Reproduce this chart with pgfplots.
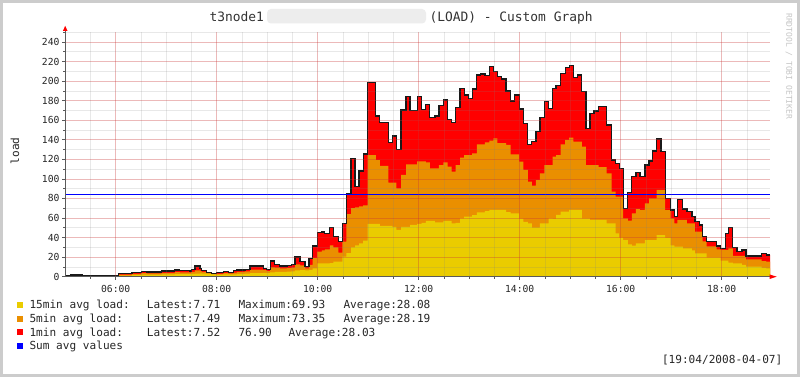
\documentclass[border=0pt]{standalone}
\usepackage{fontspec}
\setmainfont{DejaVu Sans Mono}
\usepackage{pgfplots}
\usepackage{pgfplotstable}
\pgfplotsset{compat=1.18}
\definecolor{rrdyel}{RGB}{234,204,0}
\definecolor{rrdora}{RGB}{234,143,0}
\definecolor{rrdred}{RGB}{255,0,0}
\definecolor{rrdblue}{RGB}{0,0,255}
\definecolor{axisgray}{RGB}{90,90,90}
\newcommand{\lfont}{\fontsize{11.1}{13}\selectfont}

\pgfplotstableread{
x y o t
5.00 0.4 0.7 1.0
5.10 0.7 1.2 1.8
5.33 0.4 0.7 1.0
6.05 1.2 2.2 3.0
6.32 1.6 2.8 4.0
6.51 2.0 3.6 5.5
6.61 2.1 3.4 4.8
6.91 2.3 4.0 5.8
7.17 2.6 4.6 7.0
7.27 2.7 4.4 6.0
7.47 2.7 4.2 5.5
7.50 2.8 4.9 7.5
7.57 3.2 6.5 11.0
7.67 3.3 6.0 8.5
7.70 3.2 5.0 6.0
7.80 2.8 3.6 4.0
7.90 2.3 2.8 3.0
8.00 2.2 3.0 4.0
8.13 2.3 3.6 5.0
8.23 2.3 3.3 4.0
8.33 2.5 4.2 6.0
8.40 2.8 5.0 7.0
8.56 3.1 5.4 7.5
8.66 3.6 7.2 11.0
8.92 3.8 6.6 8.5
8.99 3.7 5.8 7.5
9.06 4.5 9.5 16.0
9.15 4.9 9.2 12.6
9.25 5.0 8.6 11.0
9.39 5.2 8.8 11.6
9.48 5.5 9.2 12.6
9.55 6.5 12.5 20.0
9.65 6.8 11.5 15.3
9.75 6.5 8.6 10.2
9.83 7.0 12.0 18.8
9.90 8.5 19.0 31.4
9.99 13.7 25.6 45.4
10.08 13.7 27.0 45.7
10.14 13.7 27.9 44.0
10.24 14.0 32.0 50.5
10.31 15.3 30.0 40.9
10.41 15.3 24.5 35.8
10.49 20.4 35.8 54.6
10.57 24.0 64.0 84.5
10.66 30.0 70.0 121.0
10.74 32.0 71.0 92.0
10.82 34.0 72.0 108.0
10.90 37.0 73.0 125.4
10.99 54.0 124.4 198.4
11.15 54.0 119.3 164.3
11.23 52.0 113.2 157.5
11.40 52.0 96.1 137.4
11.48 51.0 96.1 143.9
11.56 47.8 90.4 130.2
11.65 51.0 104.0 170.4
11.75 51.0 114.9 184.0
11.83 53.0 114.9 169.7
11.97 54.0 118.0 184.0
12.06 55.0 118.0 171.0
12.14 57.0 117.0 176.0
12.22 57.0 110.8 162.6
12.32 55.6 110.8 164.3
12.40 55.6 114.2 174.9
12.49 57.0 117.0 180.7
12.57 57.0 112.5 160.9
12.65 54.6 107.4 157.5
12.73 55.0 114.2 173.2
12.82 59.7 121.7 192.6
12.90 61.3 124.4 185.8
12.98 61.3 124.4 182.4
13.06 63.0 126.0 192.0
13.15 65.8 135.4 206.2
13.23 65.8 135.4 207.2
13.31 67.0 137.4 205.5
13.40 68.2 139.1 214.7
13.48 68.2 141.5 209.6
13.56 68.2 136.5 204.5
13.64 68.2 136.5 202.1
13.73 66.0 134.8 189.9
13.82 64.8 125.1 179.7
13.89 64.8 125.1 185.8
13.99 59.4 117.6 171.5
14.07 56.0 109.1 156.8
14.16 54.6 97.1 135.4
14.24 50.1 93.0 138.0
14.32 50.1 98.8 148.3
14.40 54.6 105.7 162.6
14.49 54.6 114.2 178.9
14.57 59.7 114.2 172.2
14.65 59.4 122.7 192.6
14.72 63.1 124.4 195.3
14.81 66.5 135.4 207.9
14.90 66.5 139.8 213.7
14.98 68.2 142.1 215.7
15.06 68.2 138.0 203.5
15.14 68.2 138.0 206.2
15.23 59.7 132.9 189.2
15.31 59.7 114.2 151.7
15.39 58.0 114.2 167.0
15.47 58.0 114.2 169.4
15.56 58.0 112.0 173.8
15.72 54.6 105.7 155.1
15.82 54.6 86.9 119.3
15.90 44.3 81.8 116.0
15.97 40.0 81.8 110.8
16.05 37.5 59.7 69.9
16.14 33.0 57.4 86.3
16.22 31.7 64.8 102.2
16.30 34.0 69.2 106.3
16.38 34.0 68.2 102.2
16.48 37.5 75.0 114.2
16.56 37.5 80.1 118.3
16.63 37.5 80.1 128.5
16.71 42.6 88.7 140.8
16.80 42.6 88.7 127.8
16.88 40.0 68.0 80.1
16.99 32.0 59.7 68.2
17.06 30.7 54.6 61.4
17.12 30.7 58.0 79.1
17.23 29.0 58.0 69.2
17.31 29.0 54.6 66.5
17.41 27.0 54.6 61.4
17.47 23.9 46.0 56.2
17.56 23.9 46.0 52.8
17.62 23.9 36.0 40.9
17.70 19.8 31.0 35.8
17.90 19.8 28.0 31.4
17.98 16.4 27.3 29.0
18.07 16.4 27.3 44.3
18.13 14.5 29.0 50.5
18.22 13.7 21.2 29.6
18.30 13.7 21.2 25.6
18.40 12.0 21.2 27.3
18.48 10.2 17.8 21.2
18.79 9.0 16.0 23.9
18.88 8.5 15.5 22.2
18.96 8.5 15.5 22.2
}\loadtable

\begin{document}
\begin{tikzpicture}
\useasboundingbox (0pt,0pt) rectangle (800pt,377pt);
\fill[white] (0pt,0pt) rectangle (800pt,377pt);
\begin{axis}[
  at={(65.2pt,100.3pt)}, anchor=south west,
  scale only axis, width=705pt, height=244.5pt,
  xmin=5, xmax=18.96, ymin=0, ymax=250,
  axis on top,
  axis line style={draw=none},
  xtick={6,8,...,18},
  xticklabels={06:00,08:00,10:00,12:00,14:00,16:00,18:00},
  minor xtick={5.5,6,...,18.5},
  ytick={0,20,...,240},
  minor ytick={10,20,...,250},
  grid=both,
  major grid style={rrdred, opacity=0.2, line width=0.6pt},
  minor grid style={gray, opacity=0.18, line width=0.6pt},
  xtick pos=left, ytick pos=left,
  tick align=outside,
  major tick length=3pt, minor tick length=2pt,
  every tick/.style={axisgray, line width=0.6pt},
  ticklabel style={font=\fontsize{9.7}{11}\selectfont, text=black!85},
  /pgf/number format/assume math mode=true,
  y tick label style={anchor=east, inner sep=0pt, xshift=-2.5pt},
  x tick label style={anchor=base, inner sep=0pt, yshift=-12.6pt},
]
\addplot[const plot mark left, fill=rrdred, draw=none] table[x=x,y=t] {\loadtable} \closedcycle;
\addplot[const plot mark left, fill=rrdora, draw=none] table[x=x,y=o] {\loadtable} \closedcycle;
\addplot[const plot mark left, fill=rrdyel, draw=none] table[x=x,y=y] {\loadtable} \closedcycle;
\addplot[const plot mark left, black!90, line width=1.3pt] table[x=x,y=t] {\loadtable};
\addplot[rrdblue, line width=0.9pt] coordinates {(5,84.3) (18.96,84.3)};
\end{axis}
\begin{scope}[x=1pt,y=1pt]
% frame
\draw[gray!40, line width=2.6pt] (1.3,1.3) rectangle (798.7,375.7);
% axes
\draw[axisgray, line width=0.9pt] (65.2,100.3) -- (769.5,100.3);
\fill[rrdred] (769.5,98.0) -- (776.7,100.3) -- (769.5,102.6) -- cycle;
\draw[axisgray, line width=0.9pt] (65.2,100.3) -- (65.2,346.0);
\fill[rrdred] (62.9,346.0) -- (65.2,351.2) -- (67.5,346.0) -- cycle;
% title
\node[anchor=base west, inner sep=0pt, font=\fontsize{12.9}{15}\selectfont, text=black!80] at (209.3,355.3) {t3node1};
\fill[gray!14, rounded corners=4pt] (267,353.5) rectangle (426,368);
\node[anchor=base west, inner sep=0pt, font=\fontsize{12.9}{15}\selectfont, text=black!80] at (429.3,355.3) {(LOAD) - Custom Graph};
% side text
\node[anchor=west, inner sep=0pt, rotate=-90, font=\fontsize{8}{9}\selectfont, text=gray!45] at (789,364) {RRDTOOL / TOBI OETIKER};
% y label
\node[anchor=center, inner sep=0pt, rotate=90, font=\lfont, text=black!85] at (15,226) {load};
% legend
\fill[rrdyel] (16.7,69) rectangle (22.7,75);
\fill[rrdora] (16.7,55.4) rectangle (22.7,61.4);
\fill[rrdred] (16.7,41.7) rectangle (22.7,47.7);
\fill[rrdblue] (16.7,28) rectangle (22.7,34);
\begin{scope}[every node/.style={anchor=base west, inner sep=0pt, font=\lfont, text=black!85}]
\node at (29.3,68.3) {15min avg load:};
\node at (146.7,68.3) {Latest:7.71};
\node at (238.3,68.3) {Maximum:69.93};
\node at (343.3,68.3) {Average:28.08};
\node at (29.3,54.6) {5min avg load:};
\node at (146.7,54.6) {Latest:7.49};
\node at (238.3,54.6) {Maximum:73.35};
\node at (343.3,54.6) {Average:28.19};
\node at (29.3,40.9) {1min avg load:};
\node at (146.7,40.9) {Latest:7.52};
\node at (238.3,40.9) {76.90};
\node at (288.3,40.9) {Average:28.03};
\node at (29.3,27.2) {Sum avg values};
\end{scope}
\node[anchor=base east, inner sep=0pt, font=\lfont, text=black!85] at (782.5,13.3) {[19:04/2008-04-07]};
\end{scope}
\end{tikzpicture}
\end{document}
